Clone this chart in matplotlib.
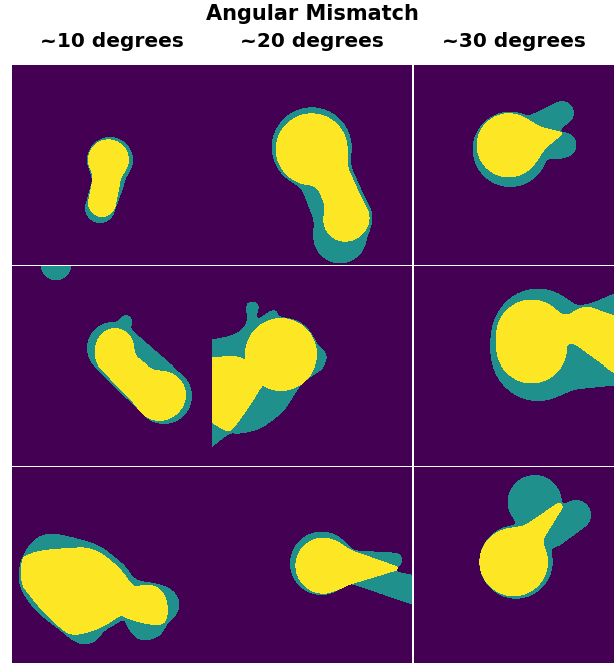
import numpy as np
import matplotlib
matplotlib.use("Agg")
import matplotlib.pyplot as plt
from matplotlib.path import Path

# titres
title = "Angular Mismatch"
col_titles = ["~10 degrees", "~20 degrees", "~30 degrees"]

# each blob = capsules (x1, y1, r1, x2, y2, r2) or polygons [(x, y), ...]
# coordinates in panel pixels (0..200, y down)
teal_r1c1 = [(98, 95, 23, 98, 95, 23), (96, 118, 16, 88, 143, 15)]
yellow_r1c1 = [(96.4, 94.8, 20.5, 96.4, 94.8, 20.5), (94, 118, 14, 90, 138, 14)]

teal_r1c2 = [(99.7, 82.3, 40, 99.7, 82.3, 40), (111.3, 91.7, 21.5, 138, 151.7, 21.5),
             (100, 95, 20, 125, 160, 20), (128, 171.7, 26.7, 128, 171.7, 26.7),
             (133, 155, 24, 133, 155, 24)]
yellow_r1c2 = [(99.7, 84.3, 36, 99.7, 84.3, 36), (133, 155, 21.7, 133, 155, 21.7),
               (111.3, 91.7, 18.3, 138, 151.7, 18.3)]

teal_r1c3 = [(96.3, 84.3, 37.7, 96.3, 84.3, 37.7), (128, 60, 14, 148, 48, 12),
             (142, 82, 12.5, 150, 80, 12.5)]
yellow_r1c3 = [(94.7, 80.3, 32, 94.7, 80.3, 32), (94.7, 80.3, 26, 146.3, 68.7, 2)]

teal_r2c1 = [(44, 0, 15.3, 44, 0, 15.3), (101, 83, 26, 152, 130, 28),
             (114, 56, 6, 114, 56, 6)]
yellow_r2c1 = [(103, 82, 19, 103, 82, 19), (150, 129, 24, 150, 129, 24),
               (100, 92, 16, 145, 133, 20)]

teal_r2c2 = [[(-10, 76), (0, 74.5), (18, 71), (28, 66), (34, 60), (35, 52), (34, 44), (35, 38),
              (40, 36), (46, 38), (47, 44), (44, 52), (48, 53), (55, 48), (60, 45), (65, 46),
              (66, 51), (75, 53), (85, 55), (95, 62), (102, 72), (106, 80), (111, 84),
              (115, 90), (114, 97), (110, 104), (100, 110), (90, 118), (84, 126), (77, 138),
              (70, 147), (60, 155), (50, 162), (38, 166), (26, 168), (18, 167), (9, 174),
              (0, 181), (-10, 188.8)]]
yellow_r2c2 = [(69, 89, 36, 69, 89, 36),
               [(-10, 92), (0, 92), (20, 91), (30, 92), (40, 100), (55, 100), (60, 110),
                (50, 120), (40, 137), (28, 154), (18, 167), (8, 162), (0, 157),
                (-10, 151.5)]]

teal_r2c3 = [(124, 69.3, 45.7, 124, 89.3, 45.7), (124, 81, 46, 214.7, 84, 34),
             (178, 56, 16.7, 218, 42.7, 20)]
yellow_r2c3 = [(117.7, 70, 35.5, 117.7, 82, 35.5), (173, 62.7, 20.7, 211.3, 82.7, 26.7),
               (118, 64.3, 12.3, 173, 62.7, 12.3)]

teal_r3c1 = [[(6.3, 105), (9.7, 90), (18, 76.7), (28, 68.3), (41.3, 66), (64.7, 71), (88, 78.3),
              (103, 90), (114.7, 100), (123, 113.3), (141.3, 115.7), (156.3, 120),
              (165.3, 127.7), (168, 137.7), (164.7, 148.3), (156.3, 155.7), (153, 161.7),
              (148, 169), (138, 173.3), (128, 173.3), (120.7, 168.3), (115.3, 160),
              (112, 152.3), (103, 157.7), (93, 163.3), (86.3, 171.7), (79.7, 176.7),
              (69.7, 177.7), (59.7, 173.3), (48, 163.3), (34.7, 153.3), (23, 143.3),
              (13, 130), (7.3, 118.3)]]
yellow_r3c1 = [[(9.7, 91.7), (14.7, 87.7), (28, 83.3), (54.7, 81), (74.7, 80), (88, 85),
                (101.3, 95), (111.3, 105), (121.3, 120), (131.3, 117.7), (143, 118.3),
                (151.3, 125), (155.3, 135), (156.3, 146.7), (153, 156.7), (144.7, 158.3),
                (131.3, 156.7), (114.7, 151.7), (109.7, 148.3), (101.3, 153.3), (91.3, 160),
                (78, 165), (64.7, 168.3), (54.7, 166.7), (41.3, 155), (28, 141.7),
                (14.7, 125), (9.7, 118.3), (8.7, 105)]]

teal_r3c2 = [(109.7, 96.3, 31.7, 109.7, 96.3, 31.7), (135, 92, 9, 183, 93, 7.3),
             (135, 105, 10, 210, 125, 15)]
yellow_r3c2 = [(111.3, 98, 26.7, 111.3, 98, 26.7), (111.3, 99.7, 25, 183, 101.3, 2.7)]

teal_r3c3 = [(102, 95, 36.7, 102, 95, 36.7), (120.7, 35, 27, 120.7, 35, 27),
             (162, 48, 15, 140, 68, 12)]
yellow_r3c3 = [(99.7, 95, 34.3, 99.7, 95, 34.3), (108, 78.3, 15, 144.7, 40, 4)]

panels = [
    [(teal_r1c1, yellow_r1c1), (teal_r1c2, yellow_r1c2), (teal_r1c3, yellow_r1c3)],
    [(teal_r2c1, yellow_r2c1), (teal_r2c2, yellow_r2c2), (teal_r2c3, yellow_r2c3)],
    [(teal_r3c1, yellow_r3c1), (teal_r3c2, yellow_r3c2), (teal_r3c3, yellow_r3c3)],
]

N = 200
yy, xx = np.mgrid[0:N, 0:N] + 0.5
pts = np.column_stack([xx.ravel(), yy.ravel()])


def chaikin(poly, n=2):
    p = np.array(poly, float)
    for _ in range(n):
        q = np.roll(p, -1, axis=0)
        p = np.column_stack([0.75 * p + 0.25 * q, 0.25 * p + 0.75 * q]).reshape(-1, 2)
    return p


def smin(a, b, k=8.0):
    h = np.clip(0.5 + 0.5 * (b - a) / k, 0, 1)
    return b * (1 - h) + a * h - k * h * (1 - h)


def blob(parts):
    d = None
    m = np.zeros((N, N), bool)
    for p in parts:
        if isinstance(p, list):
            m |= Path(chaikin(p)).contains_points(pts).reshape(N, N)
            continue
        x1, y1, r1, x2, y2, r2 = p
        dc = np.full((N, N), np.inf)
        for t in np.linspace(0, 1, 40):
            cx = x1 + (x2 - x1) * t
            cy = y1 + (y2 - y1) * t
            r = r1 + (r2 - r1) * t
            dc = np.minimum(dc, np.hypot(xx - cx, yy - cy) - r)
        d = dc if d is None else smin(d, dc)
    if d is not None:
        m |= d <= 0
    return m


W, H = 615, 663
fig = plt.figure(figsize=(W / 100, H / 100), dpi=100)

col_x = [12, 212, 414]
row_y = [65, 266, 467]

for i in range(3):
    for j in range(3):
        teal, yellow = panels[i][j]
        img = np.zeros((N, N))
        img[blob(teal)] = 1
        img[blob(yellow)] = 2
        ax = fig.add_axes([col_x[j] / W, 1 - (row_y[i] + 200) / H, 200 / W, 200 / H])
        ax.imshow(img, cmap="viridis", vmin=0, vmax=2, interpolation="nearest",
                  extent=(0, 200, 200, 0), aspect="auto")
        ax.axis("off")

fig.text(312.5 / W, 1 - 20 / H, title, ha="center", va="baseline",
         fontsize=15, fontweight="bold")
for j, t in enumerate(col_titles):
    fig.text((col_x[j] + 100) / W, 1 - 47 / H, t, ha="center", va="baseline",
             fontsize=14.5, fontweight="bold")

fig.savefig("out.png", dpi=100)
